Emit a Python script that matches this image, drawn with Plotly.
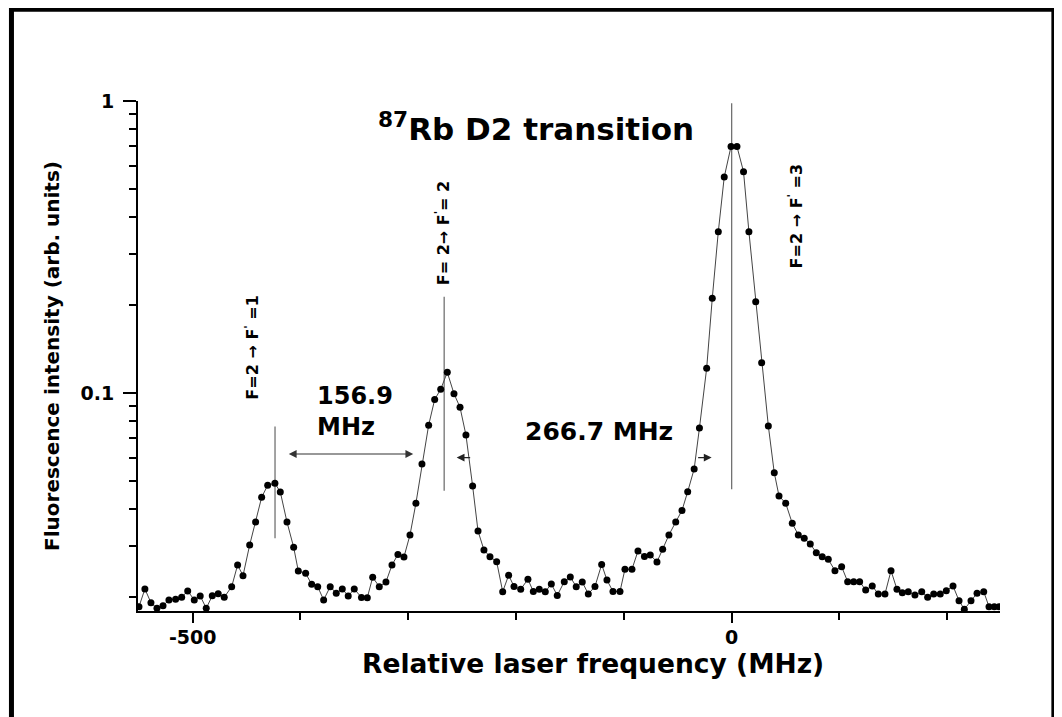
import numpy as np
import plotly.graph_objects as go

# ---------------- data ----------------
freq_mhz = [-549.8, -544.3, -538.7, -533.1, -527.5, -522.0, -515.8, -510.2, -504.6, -498.5,
            -493.0, -487.4, -481.8, -476.3, -470.7, -463.8, -458.3, -453.3, -447.1, -441.6,
            -436.0, -430.4, -423.7, -418.7, -412.5, -406.3, -402.0, -395.2, -389.6, -384.0,
            -378.5, -372.4, -366.8, -361.2, -355.7, -350.1, -343.4, -338.0, -333.0, -326.9,
            -320.7, -315.1, -309.6, -304.0, -298.4, -292.9, -287.3, -281.1, -275.5, -269.9,
            -263.8, -257.6, -252.0, -246.5, -240.3, -235.3, -229.8, -224.2, -218.0, -212.4,
            -206.9, -201.9, -195.7, -189.0, -184.0, -178.5, -172.9, -167.3, -161.8, -155.3,
            -149.7, -144.2, -138.6, -133.0, -126.8, -120.6, -115.7, -110.1, -103.6, -99.0,
            -92.5, -86.9, -80.9, -75.5, -69.3, -64.0, -58.2, -51.9, -46.1, -40.8,
            -34.8, -29.9, -23.2, -18.0, -12.4, -6.9, -0.6, 4.9, 11.0, 16.0,
            22.3, 27.8, 34.0, 39.5, 43.9, 50.1, 56.2, 61.8, 67.3, 72.9,
            78.5, 84.0, 89.6, 95.8, 102.0, 107.6, 113.2, 118.7, 124.3, 130.4,
            136.0, 142.2, 147.8, 153.3, 158.3, 163.8, 170.0, 176.3, 181.8, 187.4,
            193.5, 199.1, 205.3, 210.9, 215.8, 222.0, 227.6, 233.8, 238.7, 243.6,
            248.0]

intensity = [0.01854, 0.02132, 0.01913, 0.01831, 0.01869, 0.01955, 0.01966, 0.01997, 0.02099, 0.01955,
             0.02018, 0.01831, 0.02020, 0.02054, 0.01997, 0.02171, 0.02576, 0.02368, 0.03017, 0.03616,
             0.04393, 0.04830, 0.04907, 0.04581, 0.03616, 0.02962, 0.02457, 0.02413, 0.02212, 0.02171,
             0.01955, 0.02171, 0.02061, 0.02132, 0.02018, 0.02132, 0.01994, 0.01991, 0.02338, 0.02171,
             0.02253, 0.02576, 0.02798, 0.02744, 0.03264, 0.04191, 0.05712, 0.07752, 0.09499, 0.1030,
             0.1177, 0.09945, 0.08933, 0.07180, 0.04803, 0.03368, 0.02900, 0.02750, 0.02644, 0.02087,
             0.02375, 0.02175, 0.02127, 0.02301, 0.02090, 0.02127, 0.02087, 0.02218, 0.02026, 0.02258,
             0.02343, 0.02171, 0.02253, 0.02049, 0.02175, 0.02586, 0.02288, 0.02090, 0.02090, 0.02490,
             0.02490, 0.02877, 0.02754, 0.02788, 0.02638, 0.02916, 0.03264, 0.03616, 0.03959, 0.04592,
             0.05492, 0.07588, 0.1215, 0.2110, 0.3568, 0.5492, 0.6986, 0.6986, 0.5728, 0.3568,
             0.2055, 0.1270, 0.07709, 0.05334, 0.04439, 0.04191, 0.03579, 0.03264, 0.03180, 0.03040,
             0.02839, 0.02750, 0.02694, 0.02463, 0.02542, 0.02258, 0.02258, 0.02258, 0.02115, 0.02183,
             0.02049, 0.02049, 0.02463, 0.02127, 0.02071, 0.02087, 0.02033, 0.02087, 0.01997, 0.02049,
             0.02049, 0.02103, 0.02183, 0.01944, 0.01816, 0.01944, 0.02061, 0.02087, 0.01854, 0.01854,
             0.01854]

# hyperfine transition markers
line_freqs = [-423.6, -266.7, 0.0]
line_bottoms = [0.0318, 0.0463, 0.0468]
line_tops = [0.0767, 0.2137, 0.982]
line_labels = ["F=2 → F<sup>'</sup> =1", "F= 2→ F<sup>'</sup>= 2", "F=2 → F<sup>'</sup> =3"]
label_x = [-445.3, -267.5, 59.6]
label_y = [0.1437, 0.3532, 0.4055]

# spacing annotations
gap_labels = ["156.9<br>MHz", "266.7 MHz"]
gap_label_x = [-386.5, -122.9]
gap_label_y = [0.0863, 0.0737]
arrow1_from, arrow1_to, arrow1_y = -412.2, -295.4, 0.0618
arrow2_pairs = [(-241.2, -255.1), (-32.5, -18.6)]  # (tail, head)
arrow2_y = 0.0601

title_text = "<sup>87</sup>Rb D2 transition"
title_x, title_y = -181.1, 0.8166

x_tickvals = [-500, 0]
x_ticktext = ["-500", "0"]
x_minor = [-400, -300, -200, -100, 100, 200]
y_tickvals = [0.1, 1]
y_ticktext = ["0.1", "1"]
y_minor = [0.02, 0.03, 0.04, 0.05, 0.06, 0.07, 0.08, 0.09,
           0.2, 0.3, 0.4, 0.5, 0.6, 0.7, 0.8, 0.9]

FONT = "DejaVu Sans"

# ---------------- figure ----------------
fig = go.Figure()

vx, vy = [], []
for f, b, t in zip(line_freqs, line_bottoms, line_tops):
    vx += [f, f, None]
    vy += [b, t, None]
fig.add_trace(go.Scatter(x=vx, y=vy, mode="lines",
                         line=dict(color="#666666", width=1.2),
                         hoverinfo="skip", showlegend=False))

fig.add_trace(go.Scatter(x=freq_mhz, y=intensity, mode="lines+markers",
                         line=dict(color="#444444", width=1),
                         marker=dict(color="black", size=7),
                         name="fluorescence", showlegend=False))

ann = []
for txt, lx, ly in zip(line_labels, label_x, label_y):
    ann.append(dict(x=lx, y=np.log10(ly), xref="x", yref="y", text=txt,
                    textangle=-90, showarrow=False, xanchor="center", yanchor="middle",
                    font=dict(family=FONT, size=16, color="black", weight="bold")))

ann.append(dict(x=gap_label_x[0], y=np.log10(gap_label_y[0]), xref="x", yref="y",
                text=gap_labels[0], showarrow=False, xanchor="left", yanchor="middle",
                align="left", font=dict(family=FONT, size=24, color="black", weight="bold")))
ann.append(dict(x=gap_label_x[1], y=np.log10(gap_label_y[1]), xref="x", yref="y",
                text=gap_labels[1], showarrow=False, xanchor="center", yanchor="middle",
                font=dict(family=FONT, size=25, color="black", weight="bold")))

ann.append(dict(x=arrow1_to, y=np.log10(arrow1_y), ax=arrow1_from, ay=np.log10(arrow1_y),
                xref="x", yref="y", axref="x", ayref="y", text="", showarrow=True,
                arrowhead=2, startarrowhead=2, arrowside="end+start", arrowsize=1.3,
                arrowwidth=1.2, arrowcolor="#333333"))
for tail, head in arrow2_pairs:
    ann.append(dict(x=head, y=np.log10(arrow2_y), ax=tail, ay=np.log10(arrow2_y),
                    xref="x", yref="y", axref="x", ayref="y", text="", showarrow=True,
                    arrowhead=2, arrowsize=1.3, arrowwidth=1.2, arrowcolor="#222222"))

ann.append(dict(x=title_x, y=np.log10(title_y), xref="x", yref="y", text=title_text,
                showarrow=False, xanchor="center", yanchor="middle",
                font=dict(family=FONT, size=31, color="black", weight="bold")))

# x-axis title (placed like the reference, slightly right of centre)
ann.append(dict(x=0.528, y=-0.103, xref="paper", yref="paper",
                text="Relative laser frequency (MHz)", showarrow=False,
                xanchor="center", yanchor="middle",
                font=dict(family=FONT, size=26.5, color="black", weight="bold")))

# the page body has an 8 px margin, so the margins are shifted to compensate
fig.update_layout(
    width=1062, height=717,
    margin=dict(l=130, r=70, t=93, b=114),
    plot_bgcolor="white", paper_bgcolor="white",
    showlegend=False,
    annotations=ann,
    shapes=[dict(type="rect", xref="paper", yref="paper",
                 x0=-0.1468, x1=1.0625, y0=-0.26, y1=1.180,
                 line=dict(color="black", width=5), fillcolor="rgba(0,0,0,0)")],
    xaxis=dict(range=[-550.7, 248.9], showgrid=False, zeroline=False,
               showline=True, linecolor="black", linewidth=2,
               ticks="outside", ticklen=10, tickwidth=2, tickcolor="black",
               tickmode="array", tickvals=x_tickvals, ticktext=x_ticktext,
               ticklabelstandoff=-2,
               tickfont=dict(family=FONT, size=19, color="black", weight="bold"),
               minor=dict(tickmode="array", tickvals=x_minor, ticks="outside",
                          ticklen=7, tickwidth=1.5, tickcolor="black")),
    yaxis=dict(type="log", range=[np.log10(0.01792), 0], showgrid=False, zeroline=False,
               showline=True, linecolor="black", linewidth=2,
               ticks="outside", ticklen=13, tickwidth=2, tickcolor="black",
               tickmode="array", tickvals=y_tickvals, ticktext=y_ticktext,
               ticklabelstandoff=5,
               tickfont=dict(family=FONT, size=19, color="black", weight="bold"),
               minor=dict(tickmode="array", tickvals=y_minor, ticks="outside",
                          ticklen=7, tickwidth=1.5, tickcolor="black"),
               title=dict(text="Fluorescence intensity (arb. units)", standoff=16,
                          font=dict(family=FONT, size=20, color="black", weight="bold"))),
)

fig.write_html("out.html")
